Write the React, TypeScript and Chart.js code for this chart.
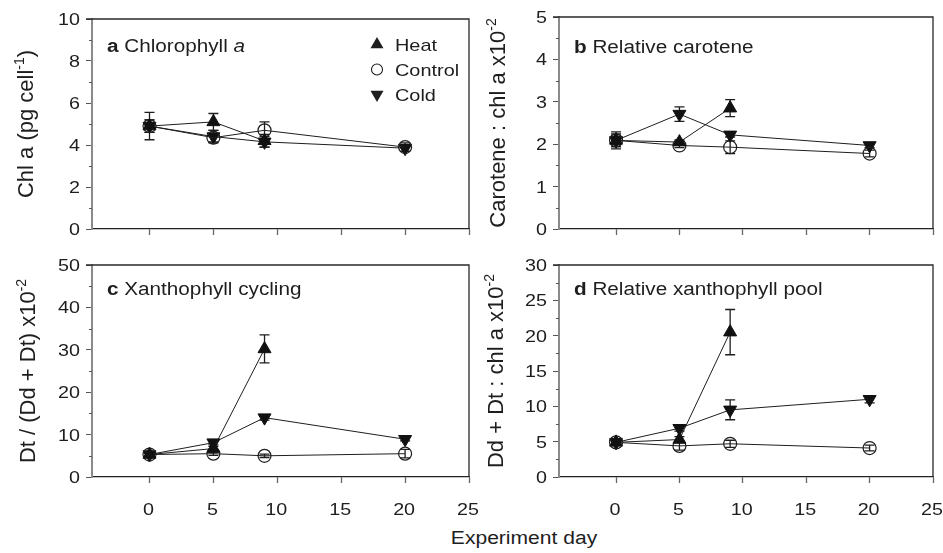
import React, { useEffect, useRef } from 'react';
import { Chart, registerables } from 'chart.js';

Chart.register(...registerables);

const FONT = '"Liberation Sans", Arial, Helvetica, sans-serif';
const INK = '#1e1e1e';

// ---------- data ----------
const daysAll = [0, 5, 9, 20];
const daysHeat = [0, 5, 9];
const xTicks = [0, 5, 10, 15, 20, 25];
const seriesNames = ['Heat', 'Control', 'Cold'];

// a  Chlorophyll a (pg cell-1)
const aHeat = [4.9, 5.1, 4.2];
const aHeatErr = [0.65, 0.4, 0.3];
const aControl = [4.9, 4.35, 4.7, 3.9];
const aControlErr = [0.3, 0.2, 0.4, 0.2];
const aCold = [4.9, 4.4, 4.15, 3.85];
const aColdErr = [0.3, 0.3, 0.25, 0.15];

// b  Relative carotene
const bHeat = [2.09, 2.05, 2.85];
const bHeatErr = [0.2, 0.05, 0.2];
const bControl = [2.09, 1.97, 1.93, 1.78];
const bControlErr = [0.15, 0.05, 0.15, 0.08];
const bCold = [2.09, 2.71, 2.22, 1.97];
const bColdErr = [0.1, 0.17, 0.05, 0.05];

// c  Xanthophyll cycling
const cHeat = [5.3, 6.7, 30.2];
const cHeatErr = [0.5, 0.5, 3.3];
const cControl = [5.3, 5.5, 5.0, 5.5];
const cControlErr = [0.4, 0.4, 0.4, 1.0];
const cCold = [5.3, 8.1, 14.0, 8.9];
const cColdErr = [0.4, 0.5, 0.6, 0.4];

// d  Relative xanthophyll pool
const dHeat = [4.9, 5.3, 20.5];
const dHeatErr = [0.3, 0.4, 3.2];
const dControl = [4.9, 4.4, 4.7, 4.1];
const dControlErr = [0.3, 0.6, 0.5, 0.4];
const dCold = [4.9, 6.9, 9.5, 11.0];
const dColdErr = [0.3, 0.4, 1.4, 0.5];

type Seg = { t: string; bold?: boolean; italic?: boolean; sup?: boolean };

const panels = [
  {
    key: 'a',
    canvas: { left: 0, top: 0, width: 480, height: 250 },
    area: { left: 92, top: 19, right: 469, bottom: 229 },
    yMax: 10, yStep: 2,
    yTitle: [{ t: 'Chl a (pg cell' }, { t: '-1', sup: true }, { t: ')' }] as Seg[],
    yTitleX: 33,
    titleBase: 52,
    title: [{ t: 'a', bold: true }, { t: ' Chlorophyll ' }, { t: 'a', italic: true }] as Seg[],
    heat: aHeat, heatErr: aHeatErr, control: aControl, controlErr: aControlErr, cold: aCold, coldErr: aColdErr,
    xLabels: false, legend: true,
  },
  {
    key: 'b',
    canvas: { left: 478, top: 0, width: 465, height: 250 },
    area: { left: 559, top: 17, right: 933, bottom: 229 },
    yMax: 5, yStep: 1,
    yTitle: [{ t: 'Carotene : chl a x10' }, { t: '-2', sup: true }] as Seg[],
    yTitleX: 505,
    titleBase: 53,
    title: [{ t: 'b', bold: true }, { t: ' Relative carotene' }] as Seg[],
    heat: bHeat, heatErr: bHeatErr, control: bControl, controlErr: bControlErr, cold: bCold, coldErr: bColdErr,
    xLabels: false, legend: false,
  },
  {
    key: 'c',
    canvas: { left: 0, top: 248, width: 480, height: 280 },
    area: { left: 92, top: 265, right: 469, bottom: 477 },
    yMax: 50, yStep: 10,
    yTitle: [{ t: 'Dt / (Dd + Dt) x10' }, { t: '-2', sup: true }] as Seg[],
    yTitleX: 35,
    titleBase: 295,
    title: [{ t: 'c', bold: true }, { t: ' Xanthophyll cycling' }] as Seg[],
    heat: cHeat, heatErr: cHeatErr, control: cControl, controlErr: cControlErr, cold: cCold, coldErr: cColdErr,
    xLabels: true, legend: false,
  },
  {
    key: 'd',
    canvas: { left: 478, top: 248, width: 465, height: 280 },
    area: { left: 559, top: 265, right: 933, bottom: 477 },
    yMax: 30, yStep: 5,
    yTitle: [{ t: 'Dd + Dt : chl a x10' }, { t: '-2', sup: true }] as Seg[],
    yTitleX: 503,
    titleBase: 295,
    title: [{ t: 'd', bold: true }, { t: ' Relative xanthophyll pool' }] as Seg[],
    heat: dHeat, heatErr: dHeatErr, control: dControl, controlErr: dControlErr, cold: dCold, coldErr: dColdErr,
    xLabels: true, legend: false,
  },
];

function segFont(s: Seg, size: number) {
  const fs = s.sup ? Math.round(size * 0.62) : size;
  return `${s.italic ? 'italic ' : ''}${s.bold ? 'bold ' : ''}${fs}px ${FONT}`;
}
function richWidth(ctx: CanvasRenderingContext2D, segs: Seg[], size: number) {
  let w = 0;
  for (const s of segs) {
    ctx.font = segFont(s, size);
    w += ctx.measureText(s.t).width;
  }
  return w;
}
// draws rich text at (x,y) with horizontal stretch sx
function drawRich(ctx: CanvasRenderingContext2D, segs: Seg[], x: number, y: number, size: number, sx = 1) {
  ctx.save();
  ctx.translate(x, y);
  ctx.scale(sx, 1);
  let cx = 0;
  for (const s of segs) {
    ctx.font = segFont(s, size);
    ctx.fillText(s.t, cx, s.sup ? -size * 0.4 : 0);
    cx += ctx.measureText(s.t).width;
  }
  ctx.restore();
}
function drawStretched(ctx: CanvasRenderingContext2D, t: string, x: number, y: number, sx: number) {
  ctx.save();
  ctx.translate(x, y);
  ctx.scale(sx, 1);
  ctx.fillText(t, 0, 0);
  ctx.restore();
}
function tri(ctx: CanvasRenderingContext2D, x: number, y: number, r: number, down: boolean) {
  const s = down ? -1 : 1;
  ctx.beginPath();
  ctx.moveTo(x, y - s * r);
  ctx.lineTo(x + r * 0.866, y + s * r * 0.5);
  ctx.lineTo(x - r * 0.866, y + s * r * 0.5);
  ctx.closePath();
  ctx.fill();
}

const TICK_SIZE = 17;
const TICK_SX = 1.16;

function PanelChart({ p }: { p: (typeof panels)[number] }) {
  const ref = useRef<HTMLCanvasElement>(null);
  useEffect(() => {
    if (!ref.current) return;
    const { canvas: cv, area } = p;
    const errs = [p.heatErr, p.controlErr, p.coldErr];

    const decor = {
      id: 'decor' + p.key,
      beforeDatasetsDraw(chart: any) {
        const ctx = chart.ctx as CanvasRenderingContext2D;
        const xs = chart.scales.x, ys = chart.scales.y;
        ctx.save();
        ctx.strokeStyle = INK;
        ctx.lineWidth = 1.3;
        chart.data.datasets.forEach((ds: any, di: number) => {
          ds.data.forEach((pt: any, i: number) => {
            const e = errs[di][i];
            const px = xs.getPixelForValue(pt.x);
            const y1 = ys.getPixelForValue(pt.y + e);
            const y2 = ys.getPixelForValue(pt.y - e);
            ctx.beginPath();
            ctx.moveTo(px, y1); ctx.lineTo(px, y2);
            ctx.moveTo(px - 5, y1); ctx.lineTo(px + 5, y1);
            ctx.moveTo(px - 5, y2); ctx.lineTo(px + 5, y2);
            ctx.stroke();
          });
        });
        ctx.restore();
      },
      afterDraw(chart: any) {
        const ctx = chart.ctx as CanvasRenderingContext2D;
        const ca = chart.chartArea;
        const xs = chart.scales.x, ys = chart.scales.y;
        ctx.save();
        // frame top & right
        ctx.strokeStyle = '#2a2a2a';
        ctx.lineWidth = 1.3;
        ctx.beginPath();
        ctx.moveTo(ca.left - 6, ca.top);
        ctx.lineTo(ca.right, ca.top);
        ctx.lineTo(ca.right, ca.bottom);
        ctx.stroke();
        // minor y ticks
        ctx.strokeStyle = '#555';
        ctx.lineWidth = 1;
        for (let v = p.yStep / 2; v < p.yMax; v += p.yStep) {
          const py = Math.round(ys.getPixelForValue(v)) + 0.5;
          ctx.beginPath();
          ctx.moveTo(ca.left - 3, py);
          ctx.lineTo(ca.left, py);
          ctx.stroke();
        }
        ctx.fillStyle = INK;
        // y tick labels
        ctx.font = `${TICK_SIZE}px ${FONT}`;
        ctx.textAlign = 'right';
        ctx.textBaseline = 'alphabetic';
        ys.ticks.forEach((t: any) => {
          const py = ys.getPixelForValue(t.value);
          drawStretched(ctx, String(t.value), ca.left - 12, py + 6, TICK_SX);
        });
        // x tick labels
        if (p.xLabels) {
          ctx.textAlign = 'center';
          xs.ticks.forEach((t: any) => {
            const px = xs.getPixelForValue(t.value);
            drawStretched(ctx, String(t.value), px - 1, ca.bottom + 38, TICK_SX);
          });
        }
        ctx.textAlign = 'left';
        ctx.textBaseline = 'alphabetic';
        // panel title
        drawRich(ctx, p.title, ca.left + 15, p.titleBase - cv.top, 18, 1.15);
        // y title rotated
        const w = richWidth(ctx, p.yTitle, 22);
        ctx.save();
        ctx.translate(p.yTitleX - cv.left, (ca.top + ca.bottom) / 2);
        ctx.rotate(-Math.PI / 2);
        drawRich(ctx, p.yTitle, -w / 2, 0, 22, 1);
        ctx.restore();
        // legend
        if (p.legend) {
          const mx = 377 - cv.left, tx = 395 - cv.left;
          const rows = [51, 76, 101];
          seriesNames.forEach((n, i) => {
            const by = rows[i] - cv.top;
            ctx.fillStyle = INK;
            ctx.font = `17px ${FONT}`;
            drawStretched(ctx, n, tx, by, 1.17);
            const cy = by - 6.5;
            if (i === 0) tri(ctx, mx, cy, 7.5, false);
            else if (i === 2) tri(ctx, mx, cy, 7.5, true);
            else {
              ctx.strokeStyle = INK;
              ctx.lineWidth = 1.1;
              ctx.beginPath();
              ctx.arc(mx, cy, 5.5, 0, Math.PI * 2);
              ctx.stroke();
            }
          });
        }
        ctx.restore();
      },
    };

    const mk = (xs: number[], ys: number[]) => xs.map((x, i) => ({ x, y: ys[i] }));
    const chart = new Chart(ref.current, {
      type: 'line',
      data: {
        datasets: [
          {
            label: seriesNames[0], data: mk(daysHeat, p.heat),
            borderColor: INK, borderWidth: 1, pointStyle: 'triangle', pointRadius: 7.5,
            pointBackgroundColor: '#111', pointBorderColor: '#111', pointBorderWidth: 1, tension: 0,
          },
          {
            label: seriesNames[1], data: mk(daysAll, p.control),
            borderColor: INK, borderWidth: 1, pointStyle: 'circle', pointRadius: 6.5,
            pointBackgroundColor: 'rgba(0,0,0,0)', pointBorderColor: INK, pointBorderWidth: 1.2, tension: 0,
          },
          {
            label: seriesNames[2], data: mk(daysAll, p.cold),
            borderColor: INK, borderWidth: 1, pointStyle: 'triangle', pointRotation: 180, pointRadius: 7.5,
            pointBackgroundColor: '#111', pointBorderColor: '#111', pointBorderWidth: 1, tension: 0,
          },
        ],
      } as any,
      options: {
        animation: false,
        responsive: false,
        maintainAspectRatio: false,
        events: [],
        layout: {
          padding: {
            left: 0,
            top: area.top - cv.top,
            right: cv.left + cv.width - area.right,
            bottom: 0,
          },
        },
        plugins: { legend: { display: false }, tooltip: { enabled: false } },
        scales: {
          x: {
            type: 'linear', min: -4.5, max: 25,
            afterBuildTicks: (s: any) => { s.ticks = xTicks.map((v) => ({ value: v })); },
            afterFit: (s: any) => { s.height = cv.top + cv.height - area.bottom; },
            grid: { drawOnChartArea: false, tickLength: 6, tickColor: '#666', tickWidth: 1.3 },
            border: { color: '#222', width: 1.3 },
            ticks: { display: false, autoSkip: false, maxRotation: 0 },
          },
          y: {
            type: 'linear', min: 0, max: p.yMax,
            afterFit: (s: any) => { s.width = area.left - cv.left; },
            grid: { drawOnChartArea: false, tickLength: 6, tickColor: '#555', tickWidth: 1 },
            border: { color: '#8a8a8a', width: 2 },
            ticks: { display: false, stepSize: p.yStep },
          },
        },
      } as any,
      plugins: [decor],
    });
    return () => chart.destroy();
  }, []);
  const { canvas: cv } = p;
  return (
    <canvas
      ref={ref}
      width={cv.width}
      height={cv.height}
      style={{ position: 'absolute', left: cv.left, top: cv.top, width: cv.width, height: cv.height }}
    />
  );
}

export default function App() {
  return (
    <div style={{ position: 'absolute', left: 0, top: 0, width: 943, height: 553, background: '#fff', overflow: 'hidden' }}>
      {panels.map((p) => (
        <PanelChart key={p.key} p={p} />
      ))}
      <div
        style={{
          position: 'absolute', left: 374, width: 300, top: 528, textAlign: 'center',
          fontFamily: FONT, fontSize: 18, color: INK, lineHeight: 'normal',
          transform: 'scaleX(1.17)', transformOrigin: '150px 0',
        }}
      >
        Experiment day
      </div>
    </div>
  );
}
